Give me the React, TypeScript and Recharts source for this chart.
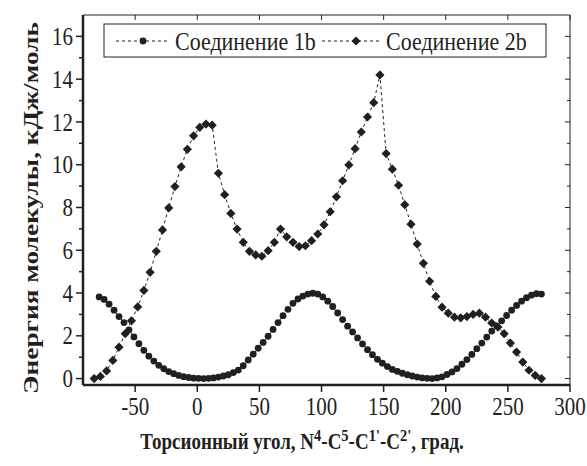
import React from "react";
import { LineChart, Line, XAxis, YAxis, ReferenceLine } from "recharts";

const INK = "#231f20";
const FONT = "Liberation Serif";
const SY = 1.18; // the original figure's lettering is stretched vertically

// Соединение 1b: torsion angle (deg) and energy (kJ/mol)
const angle1b = [
  -79, -75, -71, -67, -63, -59, -55, -51, -47, -43,
  -39, -35, -31, -27, -23, -19, -15, -11, -7, -3,
  1, 5, 9, 13, 17, 21, 25, 29, 33, 37,
  41, 45, 49, 53, 57, 61, 65, 69, 73, 77,
  81, 85, 89, 93, 97, 101, 105, 109, 113, 117,
  121, 125, 129, 133, 137, 141, 145, 149, 153, 157,
  161, 165, 169, 173, 177, 181, 185, 189, 193, 197,
  201, 205, 209, 213, 217, 221, 225, 229, 233, 237,
  241, 245, 249, 253, 257, 261, 265, 269, 273, 277,
];
const energy1b = [
  3.82, 3.7, 3.48, 3.2, 2.9, 2.62, 2.28, 1.95, 1.63, 1.32,
  1.05, 0.82, 0.62, 0.46, 0.33, 0.23, 0.15, 0.09, 0.05, 0.02,
  0.01, 0, 0.01, 0.03, 0.07, 0.12, 0.18, 0.28, 0.4, 0.6,
  0.87, 1.14, 1.42, 1.69, 1.98, 2.3, 2.62, 2.94, 3.24, 3.52,
  3.72, 3.86, 3.95, 3.99, 3.95, 3.82, 3.62, 3.37, 3.07, 2.76,
  2.45, 2.18, 1.9, 1.62, 1.35, 1.12, 0.9, 0.72, 0.56, 0.43,
  0.34, 0.25, 0.18, 0.12, 0.07, 0.03, 0.01, 0, 0.03, 0.08,
  0.19, 0.31, 0.47, 0.67, 0.89, 1.13, 1.4, 1.66, 1.94, 2.22,
  2.46, 2.7, 2.95, 3.2, 3.42, 3.62, 3.78, 3.9, 3.97, 3.95,
];

// Соединение 2b
const angle2b = [
  -83, -78, -73, -68, -63, -58, -53, -48, -43, -38,
  -33, -28, -23, -18, -13, -8, -3, 2, 7, 12,
  17, 22, 27, 32, 37, 42, 47, 52, 57, 62,
  67, 72, 77, 82, 87, 92, 97, 102, 107, 112,
  117, 122, 127, 132, 137, 142, 147, 152, 157, 162,
  167, 172, 177, 182, 187, 192, 197, 202, 207, 212,
  217, 222, 227, 232, 237, 242, 247, 252, 257, 262,
  267, 272, 277,
];
const energy2b = [
  0, 0.1, 0.36, 0.85, 1.47, 2.1, 2.7, 3.35, 4.12, 4.97,
  5.95, 6.95, 7.98, 8.98, 9.9, 10.72, 11.35, 11.75, 11.9, 11.85,
  9.6, 8.6, 7.72, 6.99, 6.37, 5.95, 5.78, 5.72, 5.98, 6.37,
  6.99, 6.63, 6.37, 6.17, 6.21, 6.45, 6.76, 7.19, 7.8, 8.5,
  9.25, 9.99, 10.75, 11.53, 12.23, 12.9, 14.2, 10.52, 9.79, 9.04,
  8.13, 7.22, 6.29, 5.39, 4.55, 3.84, 3.34, 3.06, 2.87, 2.84,
  2.9, 3.0, 3.06, 2.87, 2.6, 2.41, 2.1, 1.66, 1.24, 0.77,
  0.39, 0.15, 0,
];

const xTicks = [-50, 0, 50, 100, 150, 200, 250, 300];
const yTicks = [0, 1, 2, 3, 4, 5, 6, 7, 8, 9, 10, 11, 12, 13, 14, 15, 16];
const X_DOMAIN = [-92, 300];
const Y_DOMAIN = [-0.3, 17];

const series1b = angle1b.map((a, i) => ({ angle: a, e: energy1b[i] }));
const series2b = angle2b.map((a, i) => ({ angle: a, e: energy2b[i] }));

const Diamond = ({ cx, cy, size = 4.6 }: any) => (
  <path
    d={`M${cx},${cy - size} L${cx + size},${cy} L${cx},${cy + size} L${cx - size},${cy} Z`}
    fill={INK}
  />
);

// text stretched vertically around its anchor point
const SText = ({ x, y, size, anchor = "start", bold = false, dy, children }: any) => (
  <text
    transform={`translate(${x},${y}) scale(1,${SY})`}
    dy={dy}
    textAnchor={anchor}
    fontSize={size}
    fontWeight={bold ? "bold" : "normal"}
    fontFamily={FONT}
    fill={INK}
  >
    {children}
  </text>
);

const LeftTick = (props: any) => {
  const { x, y, payload } = props;
  const major = payload.value % 2 === 0;
  return (
    <g>
      <line x1={x} x2={x - (major ? 7 : 4)} y1={y} y2={y} stroke={INK} strokeWidth={1.5} />
      {major && (
        <SText x={x - 10} y={y} dy="0.35em" anchor="end" size={21}>
          {payload.value}
        </SText>
      )}
    </g>
  );
};

const BottomTick = (props: any) => {
  const { x, y, payload } = props;
  return (
    <SText x={x} y={y} dy="0.7em" anchor="middle" size={21}>
      {payload.value}
    </SText>
  );
};

const LegendBox = () => (
  <g>
    <rect x={104} y={24} width={442} height={33} fill="#fff" stroke={INK} strokeWidth={1} />
    <line x1={116} x2={168} y1={41} y2={41} stroke={INK} strokeDasharray="3 3" />
    <circle cx={143} cy={41} r={3.4} fill={INK} />
    <SText x={175} y={50} size={22}>Соединение 1b</SText>
    <line x1={322} x2={382} y1={41} y2={41} stroke={INK} strokeDasharray="3 3" />
    <Diamond cx={356} cy={41} size={4.6} />
    <SText x={386} y={50} size={22}>Соединение 2b</SText>
  </g>
);

const XTitle = () => (
  <SText x={302} y={449} anchor="middle" size={19} bold>
    Торсионный угол, N<tspan dy={-7} fontSize={14.5}>4</tspan>
    <tspan dy={7}>-C</tspan><tspan dy={-7} fontSize={14.5}>5</tspan>
    <tspan dy={7}>-C</tspan><tspan dy={-7} fontSize={14.5}>1'</tspan>
    <tspan dy={7}>-C</tspan><tspan dy={-7} fontSize={14.5}>2'</tspan>
    <tspan dy={7}>,  град.</tspan>
  </SText>
);

const YTitle = () => (
  <text
    transform="translate(38,208) rotate(-90) scale(1.3,1)"
    textAnchor="middle"
    fontSize={21}
    fontWeight="bold"
    fontFamily={FONT}
    fill={INK}
  >
    Энергия молекулы, кДж/моль
  </text>
);

export default function App() {
  return (
    <div style={{ position: "absolute", left: 0, top: 0, background: "#fff" }}>
      <LineChart width={587} height={466} margin={{ top: 15, right: 17, bottom: 31, left: 23 }}>
        <XAxis
          xAxisId="b"
          type="number"
          dataKey="angle"
          domain={X_DOMAIN}
          ticks={xTicks}
          allowDataOverflow
          height={50}
          axisLine={{ stroke: INK, strokeWidth: 2.5 }}
          tickLine={{ stroke: INK, strokeWidth: 1.5 }}
          tickSize={7}
          tickMargin={6}
          tick={<BottomTick />}
          interval={0}
        />
        <YAxis
          yAxisId="l"
          type="number"
          domain={Y_DOMAIN}
          ticks={yTicks}
          allowDataOverflow
          width={60}
          axisLine={{ stroke: INK, strokeWidth: 2.5 }}
          tickLine={false}
          tickSize={0}
          tickMargin={0}
          tick={<LeftTick />}
          interval={0}
        />
        {/* top and right frame with inward ticks */}
        <ReferenceLine xAxisId="b" yAxisId="l" y={Y_DOMAIN[1]} stroke={INK} strokeWidth={1} />
        <ReferenceLine xAxisId="b" yAxisId="l" x={X_DOMAIN[1]} stroke={INK} strokeWidth={1} />
        {xTicks.map((t) => (
          <ReferenceLine
            key={`tt${t}`}
            xAxisId="b"
            yAxisId="l"
            segment={[{ x: t, y: Y_DOMAIN[1] }, { x: t, y: Y_DOMAIN[1] - 0.23 }]}
            stroke={INK}
            strokeWidth={1}
          />
        ))}
        {yTicks.map((v) => (
          <ReferenceLine
            key={`rt${v}`}
            xAxisId="b"
            yAxisId="l"
            segment={[{ x: X_DOMAIN[1], y: v }, { x: X_DOMAIN[1] - (v % 2 === 0 ? 4 : 2.4), y: v }]}
            stroke={INK}
            strokeWidth={1}
          />
        ))}
        <Line
          xAxisId="b"
          yAxisId="l"
          data={series1b}
          dataKey="e"
          type="linear"
          stroke={INK}
          strokeWidth={1}
          strokeDasharray="3 3"
          dot={{ r: 3.4, fill: INK, stroke: "none" }}
          activeDot={false}
          isAnimationActive={false}
        />
        <Line
          xAxisId="b"
          yAxisId="l"
          data={series2b}
          dataKey="e"
          type="linear"
          stroke={INK}
          strokeWidth={1}
          strokeDasharray="3 3"
          dot={(p: any) => <Diamond key={`d${p.index}`} cx={p.cx} cy={p.cy} />}
          activeDot={false}
          isAnimationActive={false}
        />
        <LegendBox />
        <XTitle />
        <YTitle />
      </LineChart>
    </div>
  );
}
